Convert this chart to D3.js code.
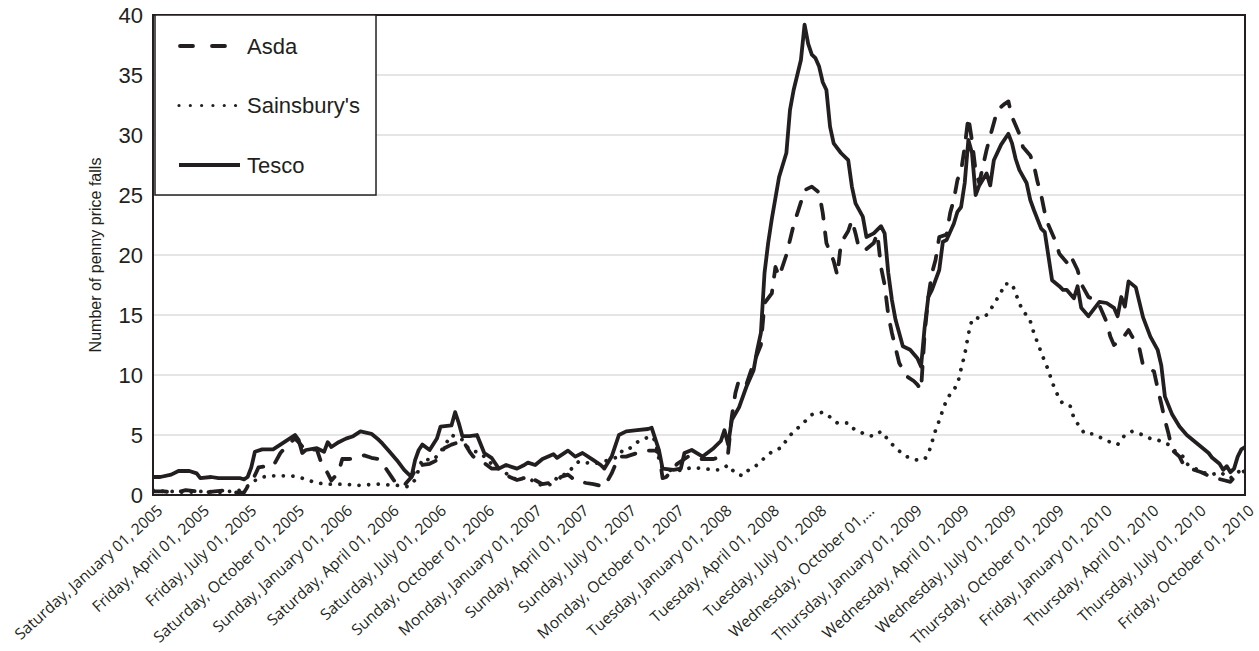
<!DOCTYPE html>
<html lang="en">
<head>
<meta charset="utf-8">
<title>Penny price falls</title>
<script src="https://d3js.org/d3.v7.min.js"></script>
<style>
  body { margin: 0; background: #fff; }
  svg { display: block; }
</style>
</head>
<body>
<script>
// weekly observations, week 0 = Saturday 1 January 2005
var startDate = new Date(2005, 0, 1);

// [week, number of penny price falls]
var tesco = [[0,1.5],[2,1.5],[5,1.7],[7,2.0],[10,2.0],[12,1.8],[13,1.4],[16,1.5],[18,1.4],[21,1.4],[24,1.4],[25,1.3],[26,1.5],[27,2.3],[28,3.6],[30,3.8],[33,3.8],[35,4.2],[37,4.6],[39,5.0],[40,4.6],[41,3.5],[42,3.75],[45,3.9],[47,3.6],[48,4.4],[49,4.0],[51,4.4],[53,4.7],[55,4.9],[57,5.3],[60,5.1],[62,4.6],[63,4.3],[65,3.6],[67,2.9],[69,2.1],[71,1.5],[72,2.9],[73,3.75],[74,4.2],[76,3.75],[78,4.7],[79,5.7],[82,5.8],[83,6.9],[84,6.0],[85,4.9],[87,4.9],[89,5.0],[91,3.5],[93,3.1],[95,2.2],[97,2.5],[100,2.2],[102,2.5],[103,2.7],[105,2.5],[107,3.0],[110,3.4],[111,3.1],[114,3.7],[116,3.2],[118,3.5],[121,2.9],[123,2.5],[124,2.2],[126,3.2],[128,5.0],[130,5.3],[133,5.4],[136,5.5],[137,5.6],[139,3.75],[140,2.2],[143,2.1],[145,2.2],[146,3.5],[148,3.75],[151,3.2],[154,3.9],[156,4.5],[157,5.4],[158,4.2],[159,6.25],[161,7.3],[163,9.0],[165,10.4],[166,12.1],[167,13.5],[168,18.5],[169,21],[170,23],[172,26.5],[174,28.5],[175,32.1],[176,33.75],[178,36.25],[179,39.2],[180,37.6],[181,36.7],[182,36.4],[183,35.7],[184,34.4],[185,33.75],[186,30.7],[187,29.3],[189,28.5],[191,27.9],[192,25.7],[193,24.3],[195,23.2],[196,21.5],[198,21.8],[200,22.4],[201,21.8],[202,18.5],[203,16.25],[204,14.6],[206,12.4],[208,12.1],[210,11.4],[211,10.7],[212,14.0],[213,16.5],[214,17.1],[216,18.75],[217,21.1],[218,21.25],[220,22.6],[221,23.6],[222,24],[223,26],[224,29.6],[225,28.5],[226,25],[227,25.8],[229,26.8],[230,25.8],[231,27.9],[233,29.2],[235,30.1],[236,29.3],[237,28],[238,27.1],[240,26],[241,24.6],[242,23.75],[244,22.2],[245,21.9],[246,19.9],[247,17.9],[249,17.4],[250,17.1],[251,17.1],[253,16.4],[254,17.4],[255,15.6],[257,14.9],[259,15.7],[260,16.1],[262,16],[264,15.6],[265,14.9],[266,16.5],[267,15.7],[268,17.8],[270,17.3],[272,14.8],[274,13.2],[276,12.1],[277,10.8],[278,8.2],[280,6.7],[282,5.7],[284,5.0],[286,4.5],[288,4.0],[290,3.5],[291,3.1],[293,2.6],[294,2.1],[295,2.4],[296,1.9],[297,2.2],[298,3.2],[299,3.8],[300,4.0]];

var asda = [[0,0.3],[3,0.3],[6,0.2],[9,0.4],[12,0.3],[14,0.2],[17,0.3],[20,0.4],[23,0.2],[25,0.2],[26,0.7],[27,1.0],[29,2.3],[31,2.4],[33,2.4],[35,3.5],[37,4.2],[39,4.7],[40,4.4],[42,3.7],[45,3.8],[46,2.9],[48,1.8],[49,1.2],[51,1.9],[52,3.0],[54,3.0],[56,3.1],[58,3.3],[60,3.1],[62,3.0],[64,2.2],[66,1.3],[67,0.9],[69,0.8],[71,1.5],[73,2.6],[74,2.5],[76,2.6],[78,2.9],[80,3.9],[82,4.2],[84,4.4],[85,4.6],[87,3.6],[88,3.2],[90,2.9],[93,2.2],[95,2.2],[98,1.5],[100,1.25],[103,1.5],[104,1.4],[107,0.9],[109,1.0],[111,1.1],[112,1.5],[114,1.7],[116,1.2],[119,1.0],[121,0.9],[124,0.7],[126,1.8],[128,3.2],[130,3.2],[131,3.3],[134,3.6],[136,3.7],[138,3.7],[139,3.5],[140,1.4],[141,1.5],[144,2.6],[147,3.2],[150,3.0],[154,3.0],[156,3.2],[158,3.5],[159,6.5],[160,8.5],[161,9.6],[163,9.2],[165,11.0],[167,12.5],[168,16],[170,16.8],[171,19],[172,18.2],[174,20],[176,22.5],[178,24.4],[179,25.4],[181,25.7],[183,25.2],[184,23.5],[185,21],[187,19.5],[188,18.3],[189,21],[191,22],[192,22.9],[193,21.8],[194,20.5],[196,20.5],[198,21],[199,21.8],[200,19],[201,17.5],[202,15],[203,13.5],[205,11],[207,9.9],[209,9.5],[210,9.2],[211,8.75],[212,13.5],[213,16.5],[214,18.5],[215,19.6],[216,21.5],[218,21.7],[219,23.5],[220,24.6],[221,26.25],[222,27],[223,29],[224,31.5],[225,29.5],[226,27],[227,26],[228,27.4],[229,28.75],[230,29.9],[231,31],[232,32.1],[234,32.6],[235,32.8],[236,31.5],[238,30.1],[239,29],[241,28.3],[242,27.5],[243,26.1],[244,25],[245,23.5],[246,22.5],[248,21.1],[249,20.1],[251,19.4],[252,20],[254,18.75],[255,17.6],[257,16.5],[259,16.2],[260,15.8],[262,14.4],[263,13.2],[264,12.5],[266,12.9],[268,13.75],[269,13.2],[271,12.2],[272,10.8],[275,10.3],[276,8.9],[277,7.6],[278,6.25],[279,5.1],[280,3.75],[282,3.2],[283,2.6],[285,2.2],[288,1.9],[290,1.6],[292,1.4],[294,1.25],[296,1.1],[298,1.8],[300,2.0]];

var sainsburys = [[0,0.4],[3,0.3],[6,0.3],[9,0.2],[12,0.3],[15,0.3],[18,0.2],[21,0.3],[24,0.4],[26,0.75],[28,1.2],[30,1.5],[33,1.6],[38,1.6],[41,1.4],[45,1.0],[48,0.9],[53,0.9],[56,0.8],[62,0.9],[67,0.8],[70,0.7],[72,1.25],[74,3.0],[77,2.9],[79,3.6],[82,5.0],[85,4.6],[87,3.75],[90,3.5],[93,2.6],[97,1.8],[100,1.25],[103,1.5],[105,1.0],[107,0.8],[110,0.9],[111,1.5],[114,1.8],[115,2.2],[117,2.8],[121,2.6],[124,2.8],[126,3.0],[128,3.2],[129,3.75],[131,3.9],[133,4.4],[135,4.7],[137,4.9],[138,4.5],[139,3.0],[140,2.2],[143,2.0],[146,2.1],[148,2.3],[151,2.2],[154,2.1],[156,2.1],[158,2.5],[160,1.8],[162,1.6],[164,2.2],[166,2.5],[168,3.1],[170,3.6],[173,4.0],[174,4.6],[176,5.3],[178,5.8],[179,6.1],[181,6.7],[184,6.9],[186,6.5],[188,6.0],[191,6.0],[192,5.6],[194,5.3],[196,5.0],[198,4.9],[200,5.3],[202,4.6],[204,3.9],[207,3.2],[210,2.9],[212,3.0],[213,3.4],[214,4.4],[215,5.4],[216,6.2],[217,7.1],[218,7.9],[219,8.4],[220,8.8],[221,9.2],[222,10.5],[223,11.7],[224,13.4],[225,14.6],[226,14.8],[227,14.7],[229,15.0],[230,15.4],[231,15.9],[233,16.9],[234,17.6],[236,17.6],[237,16.8],[238,16.0],[239,15.3],[240,15.0],[241,14.5],[242,13.5],[243,12.7],[244,11.9],[245,11.1],[246,10.4],[247,9.4],[248,8.7],[249,8.0],[250,7.6],[252,7.4],[253,6.4],[255,5.5],[256,5.1],[258,5.1],[261,4.7],[263,4.4],[265,4.2],[267,5.0],[269,5.3],[272,5.0],[274,4.7],[276,4.6],[279,4.2],[281,3.6],[283,3.2],[284,2.6],[287,2.1],[288,1.9],[291,1.7],[293,1.9],[295,1.6],[296,1.4],[298,1.9],[300,2.2]];

var tickDates = ["2005-01-01","2005-04-01","2005-07-01","2005-10-01","2006-01-01","2006-04-01","2006-07-01","2006-10-01","2007-01-01","2007-04-01","2007-07-01","2007-10-01","2008-01-01","2008-04-01","2008-07-01","2008-10-01","2009-01-01","2009-04-01","2009-07-01","2009-10-01","2010-01-01","2010-04-01","2010-07-01","2010-10-01"];
var tickLabels = ["Saturday, January 01, 2005","Friday, April 01, 2005","Friday, July 01, 2005","Saturday, October 01, 2005","Sunday, January 01, 2006","Saturday, April 01, 2006","Saturday, July 01, 2006","Sunday, October 01, 2006","Monday, January 01, 2007","Sunday, April 01, 2007","Sunday, July 01, 2007","Monday, October 01, 2007","Tuesday, January 01, 2008","Tuesday, April 01, 2008","Tuesday, July 01, 2008","Wednesday, October 01,...","Thursday, January 01, 2009","Wednesday, April 01, 2009","Wednesday, July 01, 2009","Thursday, October 01, 2009","Friday, January 01, 2010","Thursday, April 01, 2010","Thursday, July 01, 2010","Friday, October 01, 2010"];
var yTicks = [0, 5, 10, 15, 20, 25, 30, 35, 40];

var seriesNames = ["Asda", "Sainsbury's", "Tesco"];

var width = 1259, height = 651;
var ink = "#231f20";
var plotLeft = 153, plotRight = 1245, plotTop = 15, plotBottom = 495;

var svg = d3.select("body").append("svg")
    .attr("width", width)
    .attr("height", height);

var parseDay = d3.timeParse("%Y-%m-%d");
function weekDate(w) { return d3.timeDay.offset(startDate, w * 7); }

var x = d3.scaleTime()
    .domain([startDate, weekDate(300)])
    .range([plotLeft, plotRight]);
var y = d3.scaleLinear()
    .domain([0, 40])
    .range([plotBottom, plotTop]);

// gridlines
svg.append("g").selectAll("line")
    .data(yTicks.filter(function(d){ return d > 0 && d < 40; }))
    .enter().append("line")
    .attr("x1", plotLeft).attr("x2", plotRight)
    .attr("y1", function(d){ return y(d); })
    .attr("y2", function(d){ return y(d); })
    .attr("stroke", "#dcdcdc")
    .attr("stroke-width", 1.5);

// y axis labels
var yAxis = svg.append("g")
    .attr("transform", "translate(" + plotLeft + ",0)")
    .call(d3.axisLeft(y).tickValues(yTicks).tickSize(0).tickPadding(10));
yAxis.select(".domain").remove();
yAxis.selectAll("text")
    .attr("font-family", "'Liberation Sans', Arial, sans-serif")
    .attr("font-size", 22)
    .attr("fill", ink);

// x axis labels
var xAxis = svg.append("g")
    .attr("transform", "translate(0," + plotBottom + ")")
    .call(d3.axisBottom(x)
        .tickValues(tickDates.map(parseDay))
        .tickFormat(function(d, i){ return tickLabels[i]; })
        .tickSize(0));
xAxis.select(".domain").remove();
xAxis.selectAll("text")
    .attr("font-family", "'Open Sans', sans-serif")
    .attr("font-size", 15.5)
    .attr("fill", ink)
    .attr("text-anchor", "end")
    .attr("dy", 0)
    .attr("y", 0)
    .attr("transform", "translate(10,17) rotate(-42)");

// y title
svg.append("text")
    .attr("transform", "translate(101,255) rotate(-90)")
    .attr("text-anchor", "middle")
    .attr("font-family", "'Liberation Sans', Arial, sans-serif")
    .attr("font-size", 16)
    .attr("fill", ink)
    .text("Number of penny price falls");

// lines
svg.append("clipPath").attr("id", "plot")
  .append("rect").attr("x", plotLeft).attr("y", plotTop - 5)
    .attr("width", plotRight - plotLeft).attr("height", plotBottom - plotTop + 5);

var line = d3.line()
    .x(function(d){ return x(weekDate(d[0])); })
    .y(function(d){ return y(d[1]); });

var styles = {
  "Asda": { dash: "14,14", data: asda },
  "Sainsbury's": { dash: "0.01,9.6", data: sainsburys },
  "Tesco": { dash: null, data: tesco }
};

var plot = svg.append("g").attr("clip-path", "url(#plot)");
seriesNames.forEach(function(name){
  plot.append("path")
    .datum(styles[name].data)
    .attr("d", line)
    .attr("fill", "none")
    .attr("stroke", ink)
    .attr("stroke-width", 3.8)
    .attr("stroke-linecap", "round")
    .attr("stroke-linejoin", "round")
    .attr("stroke-dasharray", styles[name].dash);
});

// frame
svg.append("rect")
    .attr("x", plotLeft).attr("y", plotTop)
    .attr("width", plotRight - plotLeft).attr("height", plotBottom - plotTop)
    .attr("fill", "none")
    .attr("stroke", ink)
    .attr("stroke-width", 2);

// legend
var legend = svg.append("g");
legend.append("rect")
    .attr("x", 155).attr("y", plotTop)
    .attr("width", 221).attr("height", 180)
    .attr("fill", "#fff")
    .attr("stroke", ink)
    .attr("stroke-width", 1.5);

var legendY = d3.scalePoint().domain(seriesNames).range([46, 165]);
seriesNames.forEach(function(name){
  var g = legend.append("g").attr("transform", "translate(0," + legendY(name) + ")");
  g.append("line")
    .attr("x1", name === "Asda" ? 180 : 179)
    .attr("x2", name === "Tesco" ? 240 : (name === "Asda" ? 228 : 236))
    .attr("stroke", ink)
    .attr("stroke-width", name === "Sainsbury's" ? 3.2 : 3.8)
    .attr("stroke-linecap", name === "Tesco" ? "butt" : "round")
    .attr("stroke-dasharray", name === "Asda" ? "13,19" : (name === "Sainsbury's" ? "0.01,11.3" : null));
  g.append("text")
    .attr("x", 247)
    .attr("dy", "0.35em")
    .attr("font-family", "'Liberation Sans', Arial, sans-serif")
    .attr("font-size", 22)
    .attr("fill", ink)
    .text(name);
});
</script>
</body>
</html>
